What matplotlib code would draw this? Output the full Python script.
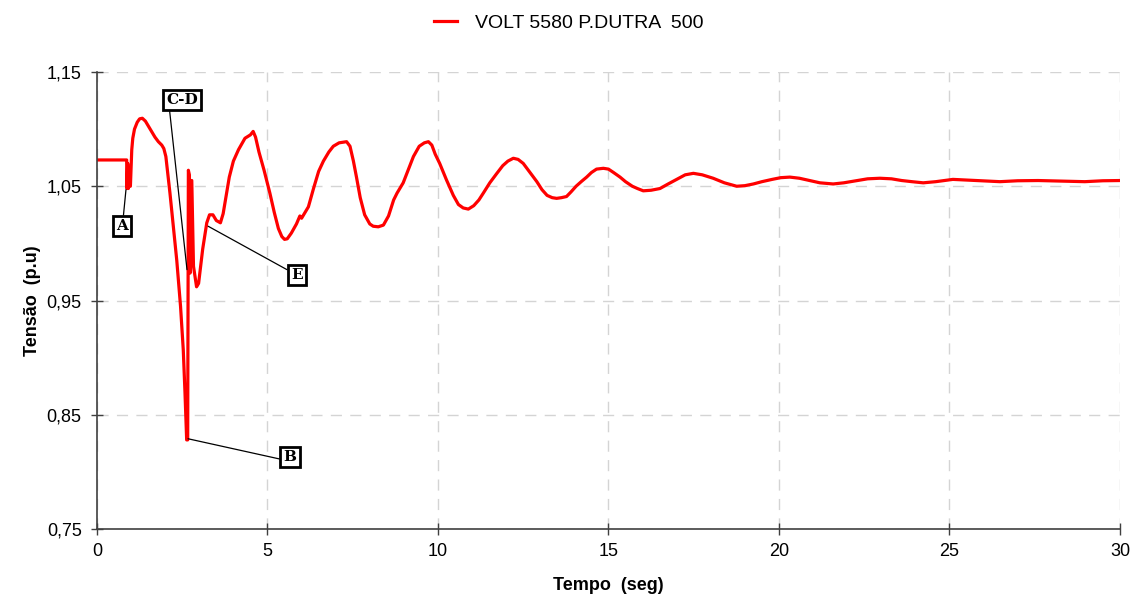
import matplotlib
matplotlib.use("Agg")
import matplotlib.pyplot as plt
from matplotlib.ticker import FuncFormatter

plt.rcParams['font.family'] = ['Liberation Sans', 'DejaVu Sans']

series_label = "VOLT 5580 P.DUTRA  500"

time_s = [0, 0.87, 0.88, 0.90, 0.92, 0.95, 0.98,
          1.02, 1.05, 1.10, 1.18, 1.25, 1.33, 1.42, 1.50, 1.60, 1.70, 1.80, 1.90, 1.96, 2.02, 2.08, 2.14,
          2.34, 2.45, 2.53, 2.58, 2.63, 2.66, 2.68, 2.71, 2.73, 2.76, 2.78, 2.83, 2.92, 2.98,
          3.10, 3.22, 3.30, 3.40, 3.50, 3.62, 3.70, 3.78, 3.88, 4.00, 4.15, 4.34, 4.50, 4.58, 4.65, 4.75,
          4.90, 5.07, 5.20, 5.32, 5.42, 5.50, 5.58, 5.70, 5.85, 5.95, 6.00,
          6.10, 6.20, 6.35, 6.50, 6.64, 6.80, 6.93, 7.10, 7.32, 7.42, 7.52, 7.61, 7.72, 7.85, 8.00, 8.10,
          8.25, 8.40, 8.55, 8.70, 8.80, 8.98, 9.15, 9.28, 9.45, 9.60, 9.72, 9.82, 9.92, 10.05, 10.25, 10.45,
          10.60, 10.74, 10.89, 11.05, 11.20, 11.33, 11.52, 11.72, 11.90, 12.05, 12.21, 12.35, 12.50, 12.70,
          12.90, 13.05, 13.20, 13.35, 13.48, 13.62, 13.77, 13.90, 14.05, 14.20, 14.36, 14.50, 14.65, 14.85,
          15.00, 15.15, 15.34, 15.50, 15.70, 15.85, 16.02, 16.25, 16.51, 16.75, 17.00, 17.25, 17.49, 17.75,
          18.07, 18.40, 18.76, 19.00, 19.25, 19.50, 19.80, 20.05, 20.32, 20.60, 20.90, 21.20, 21.59, 21.90,
          22.30, 22.60, 22.96, 23.30, 23.60, 23.90, 24.23, 24.60, 25.10, 25.80, 26.48, 27.00, 27.60, 28.30,
          28.97, 29.50, 30.0]
volt_pu = [1.073, 1.073, 1.048, 1.070, 1.048, 1.055, 1.050,
           1.082, 1.092, 1.100, 1.106, 1.109, 1.1095, 1.107, 1.103, 1.098, 1.093, 1.089, 1.086, 1.083, 1.076,
           1.060, 1.044,
           0.985, 0.945, 0.907, 0.870, 0.828, 0.828, 1.064, 1.060, 0.974, 1.055, 1.055, 0.980, 0.962, 0.965,
           0.995, 1.018, 1.025, 1.025, 1.020, 1.018, 1.026, 1.040, 1.058, 1.072, 1.082, 1.092, 1.095, 1.098,
           1.093, 1.080, 1.064, 1.044, 1.027, 1.013, 1.006, 1.0035, 1.004, 1.009, 1.017, 1.024, 1.022,
           1.027, 1.032, 1.048, 1.063, 1.072, 1.080, 1.085, 1.088, 1.089, 1.085, 1.072, 1.058, 1.040, 1.025,
           1.017, 1.015, 1.0145, 1.016, 1.024, 1.038, 1.044, 1.053, 1.066, 1.076, 1.085, 1.088, 1.089, 1.086,
           1.078, 1.070, 1.0555, 1.042, 1.034, 1.031, 1.030, 1.033, 1.038, 1.044, 1.053, 1.061, 1.068, 1.072,
           1.0745, 1.0735, 1.070, 1.062, 1.054, 1.047, 1.042, 1.040, 1.0394, 1.040, 1.041, 1.045, 1.050,
           1.054, 1.058, 1.062, 1.065, 1.0657, 1.065, 1.062, 1.058, 1.054, 1.050, 1.048, 1.046, 1.0465, 1.048,
           1.052, 1.056, 1.060, 1.0613, 1.060, 1.057, 1.053, 1.050, 1.0505, 1.052, 1.054, 1.056, 1.0575,
           1.058, 1.057, 1.055, 1.053, 1.052, 1.053, 1.055, 1.0565, 1.057, 1.0565, 1.055, 1.054, 1.053, 1.054,
           1.056, 1.055, 1.054, 1.0548, 1.055, 1.0545, 1.054, 1.0548, 1.055]

x_ticks = [0, 5, 10, 15, 20, 25, 30]
y_ticks = [0.75, 0.85, 0.95, 1.05, 1.15]

ann_labels = ["A", "C-D", "E", "B"]
ann_points = [(0.85, 1.047), (2.64, 0.977), (3.26, 1.015), (2.67, 0.829)]
ann_text_pos = [(0.73, 1.015), (2.49, 1.1255), (5.86, 0.972), (5.66, 0.813)]
ann_relpos = [(0.6, 1.0), (0.1, 0.0), (0.0, 0.75), (0.0, 0.3)]

fig = plt.figure(figsize=(11.37, 6.08), dpi=100)
ax = fig.add_axes([0.0853, 0.1299, 0.8997, 0.7517])

line, = ax.plot(time_s, volt_pu, color='#ff0000', lw=2.3, solid_joinstyle='round', label=series_label)

ax.set_xlim(0, 30)
ax.set_ylim(0.75, 1.15)
ax.set_xticks(x_ticks)
ax.set_yticks(y_ticks)
ax.yaxis.set_major_formatter(FuncFormatter(lambda v, p: f"{v:.2f}".replace('.', ',')))
ax.xaxis.set_major_formatter(FuncFormatter(lambda v, p: f"{v:g}"))

for s in ['top', 'right']:
    ax.spines[s].set_visible(False)
for s in ['left', 'bottom']:
    ax.spines[s].set_color('#404040')
    ax.spines[s].set_linewidth(1.2)
ax.tick_params(direction='inout', length=8, width=1, color='#404040', labelsize=13, labelcolor='black')
ax.tick_params(axis='y', pad=7)
ax.tick_params(axis='x', pad=6)
ax.grid(True, color='#d4d4d4', linestyle=(0, (8, 6)), linewidth=1)
ax.set_axisbelow(True)

ax.set_xlabel("Tempo  (seg)", fontsize=13, fontweight='bold', labelpad=12)
ax.set_ylabel("Tensão  (p.u)", fontsize=13, fontweight='bold', labelpad=4)

for lab, pt, tp, rp in zip(ann_labels, ann_points, ann_text_pos, ann_relpos):
    ax.annotate(lab, xy=pt, xytext=tp, textcoords='data', ha='center', va='center',
                fontsize=11, fontweight='bold', family=['DejaVu Serif'],
                bbox=dict(boxstyle='square,pad=0.2', fc='white', ec='black', lw=2),
                arrowprops=dict(arrowstyle='-', color='black', lw=0.9, relpos=rp,
                                shrinkA=0, shrinkB=0))

fig.legend(handles=[line], loc='upper center', bbox_to_anchor=(0.5, 1.005), frameon=False,
           fontsize=14, handlelength=1.2, handletextpad=0.9)

fig.savefig("out.png", dpi=100)
